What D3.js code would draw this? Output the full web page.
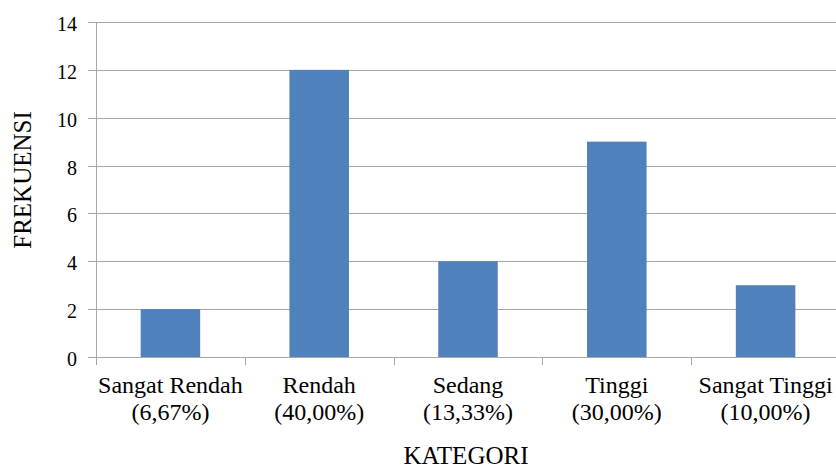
<!DOCTYPE html>
<html>
<head>
<meta charset="utf-8">
<script src="https://cdn.jsdelivr.net/npm/d3@7"></script>
<style>
  body { margin: 0; background: #fff; }
  svg text { font-family: "Times New Roman", "Liberation Serif", serif; fill: #000; }
</style>
</head>
<body>
<div id="chart"></div>
<script>
const categories = ['Sangat Rendah', 'Rendah', 'Sedang', 'Tinggi', 'Sangat Tinggi'];
const percentages = ['(6,67%)', '(40,00%)', '(13,33%)', '(30,00%)', '(10,00%)'];
const frequencies = [2, 12, 4, 9, 3];
const yTicks = [0, 2, 4, 6, 8, 10, 12, 14];

const width = 836;
const height = 468;
const plotLeft = 96;
const plotRight = 840;
const plotTop = 22;
const plotBottom = 357;

const svg = d3.select('#chart').append('svg')
    .attr('width', width)
    .attr('height', height);

const x = d3.scaleBand()
    .domain(categories)
    .range([plotLeft, plotRight])
    .paddingInner(0.6)
    .paddingOuter(0.3);

const y = d3.scaleLinear()
    .domain([0, 14])
    .range([plotBottom, plotTop]);

// gridlines + y ticks
svg.append('g')
    .selectAll('line')
    .data(yTicks)
    .join('line')
    .attr('x1', plotLeft - 8)
    .attr('x2', plotRight)
    .attr('y1', d => Math.round(y(d)) + 0.5)
    .attr('y2', d => Math.round(y(d)) + 0.5)
    .attr('stroke', '#a6a6a6')
    .attr('stroke-width', 1);

svg.append('g')
    .selectAll('text')
    .data(yTicks)
    .join('text')
    .attr('x', 77)
    .attr('y', d => y(d) + 9)
    .attr('text-anchor', 'end')
    .style('font-size', '20px')
    .text(d => d);

// y axis line
svg.append('line')
    .attr('x1', plotLeft + 0.5)
    .attr('x2', plotLeft + 0.5)
    .attr('y1', plotTop)
    .attr('y2', plotBottom + 1)
    .attr('stroke', '#a6a6a6');

// category ticks at band edges
const step = x.step();
const edges = d3.range(categories.length + 1).map(i => plotLeft + i * step);
svg.append('g')
    .selectAll('line')
    .data(edges)
    .join('line')
    .attr('x1', d => Math.round(d) + 0.5)
    .attr('x2', d => Math.round(d) + 0.5)
    .attr('y1', plotBottom)
    .attr('y2', plotBottom + 8)
    .attr('stroke', '#a6a6a6');

// bars
svg.append('g')
    .selectAll('rect')
    .data(frequencies)
    .join('rect')
    .attr('x', (d, i) => x(categories[i]))
    .attr('width', x.bandwidth())
    .attr('y', d => y(d))
    .attr('height', d => y(0) - y(d))
    .attr('fill', '#4f81bd');

// category labels, two lines each
const labels = svg.append('g')
    .selectAll('text')
    .data(categories)
    .join('text')
    .attr('text-anchor', 'middle')
    .style('font-size', '24px');

labels.append('tspan')
    .attr('x', d => x(d) + x.bandwidth() / 2)
    .attr('y', 393)
    .text(d => d);

labels.append('tspan')
    .attr('x', d => x(d) + x.bandwidth() / 2)
    .attr('y', 420)
    .text((d, i) => percentages[i]);

// axis titles
svg.append('text')
    .attr('x', 466)
    .attr('y', 464)
    .attr('text-anchor', 'middle')
    .style('font-size', '25px')
    .text('KATEGORI');

svg.append('text')
    .attr('transform', 'translate(31,180) rotate(-90)')
    .attr('text-anchor', 'middle')
    .style('font-size', '25px')
    .text('FREKUENSI');
</script>
</body>
</html>
